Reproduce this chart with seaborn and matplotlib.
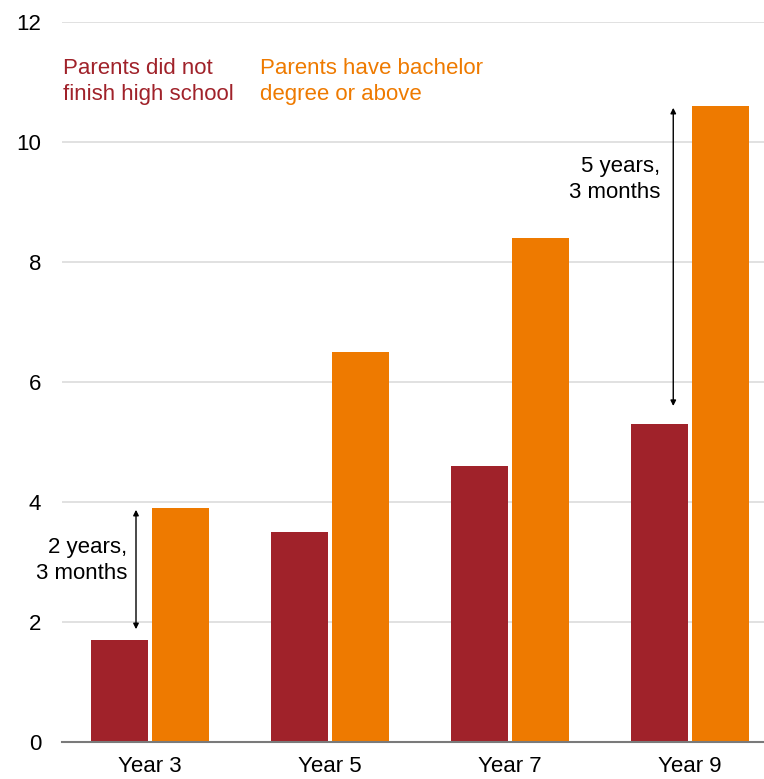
import matplotlib
matplotlib.use("Agg")
import matplotlib.pyplot as plt
import seaborn as sns
import pandas as pd

years = ["Year 3", "Year 5", "Year 7", "Year 9"]
low_ed = [1.7, 3.5, 4.6, 5.3]
high_ed = [3.9, 6.5, 8.4, 10.6]
groups = ["Parents did not\nfinish high school", "Parents have bachelor\ndegree or above"]
colors = ["#A0222A", "#EE7A00"]
yticks = [0, 2, 4, 6, 8, 10, 12]

df = pd.DataFrame({
    "year": years * 2,
    "value": low_ed + high_ed,
    "group": [groups[0]] * 4 + [groups[1]] * 4,
})

sns.set_style("white")
plt.rcParams["font.family"] = ["Liberation Sans", "DejaVu Sans"]
plt.rcParams["text.color"] = "black"
plt.rcParams["xtick.color"] = "black"
plt.rcParams["ytick.color"] = "black"

fig = plt.figure(figsize=(7.64, 7.79), dpi=100)
ax = fig.add_axes([62 / 764, 1 - 742 / 779, 702 / 764, 720 / 779])

sns.barplot(data=df, x="year", y="value", hue="group", palette=colors,
            width=0.675, gap=0.06, ax=ax, legend=False, saturation=1,
            edgecolor="none")

ax.set_ylim(0, 12)
ax.set_xlim(-0.489, 3.41)
ax.set_yticks(yticks)
ax.set_yticklabels([str(t) for t in yticks], fontsize=16)
ax.tick_params(axis="y", length=0, pad=15, labelcolor="black")
ax.tick_params(axis="x", length=0, pad=10, labelsize=16, labelcolor="black")
ax.set_xlabel("")
ax.set_ylabel("")
ax.grid(axis="y", color="#dcdcdc", linewidth=1.2)
ax.set_axisbelow(True)
for s in ["top", "right", "left"]:
    ax.spines[s].set_visible(False)
ax.spines["bottom"].set_color("#7a7a7a")
ax.spines["bottom"].set_linewidth(1.5)

# legend-like labels
ax.text(-0.482, 11.4, groups[0], color=colors[0], fontsize=16, va="top", ha="left",
        linespacing=1.3)
ax.text(0.612, 11.4, groups[1], color=colors[1], fontsize=16, va="top", ha="left",
        linespacing=1.3)

# gap arrows
arrow = dict(arrowstyle="<|-|>", color="black", lw=1, mutation_scale=8,
             shrinkA=0, shrinkB=0)
ax.annotate("", xy=(-0.078, 3.87), xytext=(-0.078, 1.88), arrowprops=arrow)
ax.text(-0.128, 3.03, "2 years,\n3 months", ha="right", va="center", fontsize=16,
        linespacing=1.3)
ax.annotate("", xy=(2.906, 10.57), xytext=(2.906, 5.6), arrowprops=arrow)
ax.text(2.833, 9.37, "5 years,\n3 months", ha="right", va="center", fontsize=16,
        linespacing=1.3)

fig.savefig("out.png", dpi=100)
